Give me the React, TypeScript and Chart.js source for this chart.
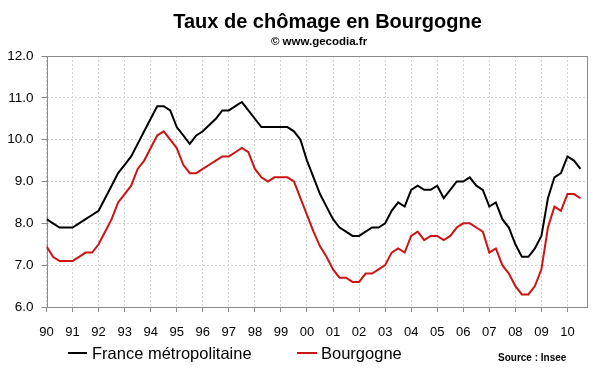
import React, { useEffect, useRef } from "react";
import { Chart, registerables } from "chart.js";

Chart.register(...registerables);

const yearLabels = ["90","91","92","93","94","95","96","97","98","99","00","01","02","03","04","05","06","07","08","09","10"];

// Quarterly unemployment rate (%), 1990 Q1 -> 2010 Q3
const france = [
  8.1, 8.0, 7.9, 7.9,
  7.9, 8.0, 8.1, 8.2,
  8.3, 8.6, 8.9, 9.2,
  9.4, 9.6, 9.9, 10.2,
  10.5, 10.8, 10.8, 10.7,
  10.3, 10.1, 9.9, 10.1,
  10.2, 10.35, 10.5, 10.7,
  10.7, 10.8, 10.9, 10.7,
  10.5, 10.3, 10.3, 10.3,
  10.3, 10.3, 10.2, 10.0,
  9.5, 9.1, 8.7, 8.4,
  8.1, 7.9, 7.8, 7.7,
  7.7, 7.8, 7.9, 7.9,
  8.0, 8.3, 8.5, 8.4,
  8.8, 8.9, 8.8, 8.8,
  8.9, 8.6, 8.8, 9.0,
  9.0, 9.1, 8.9, 8.8,
  8.4, 8.5, 8.1, 7.9,
  7.5, 7.2, 7.2, 7.4,
  7.7, 8.6, 9.1, 9.2,
  9.6, 9.5, 9.3,
];

const bourgogne = [
  7.45, 7.2, 7.1, 7.1,
  7.1, 7.2, 7.3, 7.3,
  7.5, 7.8, 8.1, 8.5,
  8.7, 8.9, 9.3, 9.5,
  9.8, 10.1, 10.2, 10.0,
  9.8, 9.4, 9.2, 9.2,
  9.3, 9.4, 9.5, 9.6,
  9.6, 9.7, 9.8, 9.7,
  9.3, 9.1, 9.0, 9.1,
  9.1, 9.1, 9.0, 8.6,
  8.2, 7.8, 7.45, 7.2,
  6.9, 6.7, 6.7, 6.6,
  6.6, 6.8, 6.8, 6.9,
  7.0, 7.3, 7.4, 7.3,
  7.7, 7.8, 7.6, 7.7,
  7.7, 7.6, 7.7, 7.9,
  8.0, 8.0, 7.9, 7.8,
  7.3, 7.4, 7.0, 6.8,
  6.5, 6.3, 6.3, 6.5,
  6.9, 7.9, 8.4, 8.3,
  8.7, 8.7, 8.6,
];

const seriesNames = ["France métropolitaine", "Bourgogne"];
const seriesColors = ["#000000", "#cc1414"];
const titleText = "Taux de chômage en Bourgogne";
const subtitleText = "© www.gecodia.fr";
const sourceText = "Source : Insee";

const FONT = "'Liberation Sans', Arial, sans-serif";

const decorPlugin = {
  id: "decor",
  beforeDatasetsDraw(chart: any) {
    const { ctx, chartArea: a } = chart;
    ctx.save();
    ctx.strokeStyle = "#8a8a8a";
    ctx.lineWidth = 1;
    ctx.strokeRect(Math.round(a.left) + 0.5, Math.round(a.top) + 0.5, Math.round(a.right - a.left) - 1, Math.round(a.bottom - a.top));
    ctx.restore();
  },
  afterDraw(chart: any) {
    const { ctx } = chart;
    ctx.save();
    ctx.fillStyle = "#000";
    ctx.textAlign = "center";
    ctx.textBaseline = "alphabetic";
    ctx.font = `bold 20px ${FONT}`;
    ctx.fillText(titleText, 327.5, 27.5);
    ctx.font = `bold 11.5px ${FONT}`;
    ctx.fillText(subtitleText, 319, 44.5);

    // legend
    const items = [
      { x0: 68, x1: 87, tx: 92 },
      { x0: 297, x1: 317, tx: 321 },
    ];
    ctx.textAlign = "left";
    ctx.textBaseline = "middle";
    ctx.font = `16.5px ${FONT}`;
    items.forEach((it, k) => {
      ctx.strokeStyle = seriesColors[k];
      ctx.lineWidth = 2;
      ctx.beginPath();
      ctx.moveTo(it.x0, 353);
      ctx.lineTo(it.x1, 353);
      ctx.stroke();
      ctx.fillStyle = "#000";
      ctx.fillText(seriesNames[k], it.tx, 354);
    });
    ctx.font = `bold 10px ${FONT}`;
    ctx.fillText(sourceText, 498, 358);
    ctx.restore();
  },
};

export default function App() {
  const ref = useRef<HTMLCanvasElement>(null);

  useEffect(() => {
    if (!ref.current) return;
    const mk = (arr: number[]) => arr.map((v, i) => ({ x: i, y: v }));
    const chart = new Chart(ref.current, {
      type: "line",
      data: {
        datasets: [
          {
            label: seriesNames[0],
            data: mk(france),
            borderColor: seriesColors[0],
            borderWidth: 2,
            pointRadius: 0,
            tension: 0,
            fill: false,
          },
          {
            label: seriesNames[1],
            data: mk(bourgogne),
            borderColor: seriesColors[1],
            borderWidth: 2,
            pointRadius: 0,
            tension: 0,
            fill: false,
          },
        ],
      },
      options: {
        animation: false,
        responsive: false,
        devicePixelRatio: 1,
        layout: { padding: { left: 0, right: 13, top: 56, bottom: 0 } },
        plugins: {
          legend: { display: false },
          title: { display: false },
          tooltip: { enabled: false },
        },
        scales: {
          x: {
            type: "linear",
            min: 0,
            max: 83,
            afterBuildTicks: (s: any) => {
              s.ticks = yearLabels.map((_, k) => ({ value: k * 4 }));
            },
            afterFit: (s: any) => {
              s.height = 65;
            },
            ticks: {
              autoSkip: false,
              maxRotation: 0,
              padding: 13,
              color: "#000",
              font: { family: FONT, size: 13 },
              callback: (v: any) => yearLabels[Math.round(Number(v) / 4)] ?? "",
            },
            grid: {
              color: "#d2d2d2",
              tickColor: "#8a8a8a",
              tickLength: 5,
              drawTicks: true,
            },
            border: { display: false, dash: [2, 2] },
          },
          y: {
            min: 6,
            max: 12,
            afterFit: (s: any) => {
              s.width = 46.5;
            },
            ticks: {
              stepSize: 1,
              padding: 8,
              color: "#000",
              font: { family: FONT, size: 13.5 },
              callback: (v: any) => Number(v).toFixed(1),
            },
            grid: {
              color: "#d2d2d2",
              tickColor: "#8a8a8a",
              tickLength: 5,
              drawTicks: true,
            },
            border: { display: false, dash: [2, 2] },
          },
        },
      },
      plugins: [decorPlugin],
    });
    return () => chart.destroy();
  }, []);

  return (
    <div style={{ position: "fixed", left: 0, top: 0, width: 600, height: 372, background: "#fff" }}>
      <canvas ref={ref} width={600} height={372} style={{ width: 600, height: 372, display: "block" }} />
    </div>
  );
}
